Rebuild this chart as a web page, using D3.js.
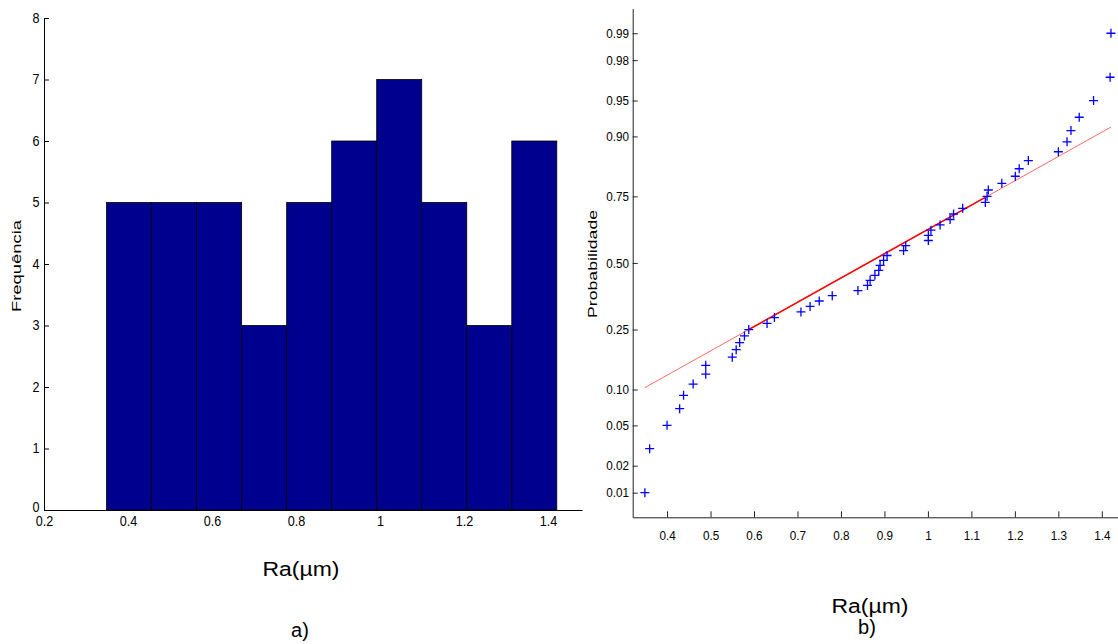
<!DOCTYPE html>
<html><head><meta charset="utf-8">
<script src="https://cdn.jsdelivr.net/npm/d3@7"></script>
<style>
body{margin:0;background:#fff;}
svg{display:block;}
text{font-family:'Liberation Sans',Arial,Helvetica,sans-serif;}
</style></head><body>
<svg id="chart" width="1118" height="644"></svg>
<script>
// ---- data (Ra values in µm, sorted) ----
const raValues = [0.349, 0.360, 0.400, 0.429, 0.438, 0.460, 0.489, 0.489, 0.550, 0.559,
  0.567, 0.578, 0.588, 0.630, 0.647, 0.708, 0.729, 0.750, 0.780, 0.839,
  0.861, 0.867, 0.878, 0.887, 0.890, 0.898, 0.906, 0.944, 0.949, 1.001,
  1.001, 1.007, 1.028, 1.051, 1.059, 1.080, 1.132, 1.136, 1.139, 1.170,
  1.201, 1.210, 1.231, 1.300, 1.320, 1.329, 1.348, 1.381, 1.419, 1.421];
const histCounts = [5, 5, 5, 3, 5, 6, 7, 5, 3, 6];
const histXTicks = [0.2, 0.4, 0.6, 0.8, 1.0, 1.2, 1.4];
const histYTicks = [0, 1, 2, 3, 4, 5, 6, 7, 8];
const probYTicks = [0.01, 0.02, 0.05, 0.10, 0.25, 0.50, 0.75, 0.90, 0.95, 0.98, 0.99];
const probXTicks = [0.4, 0.5, 0.6, 0.7, 0.8, 0.9, 1.0, 1.1, 1.2, 1.3, 1.4];
const labelX = "Ra(µm)";
const labelFreq = "Frequência";
const labelProb = "Probabilidade";

// inverse normal CDF (Acklam)
function norminv(p) {
  const a = [-3.969683028665376e+01, 2.209460984245205e+02, -2.759285104469687e+02, 1.383577518672690e+02, -3.066479806614716e+01, 2.506628277459239e+00];
  const b = [-5.447609879822406e+01, 1.615858368580409e+02, -1.556989798598866e+02, 6.680131188771972e+01, -1.328068155288572e+01];
  const c = [-7.784894002430293e-03, -3.223964580411365e-01, -2.400758277161838e+00, -2.549671010839276e+00, 4.374664141464968e+00, 2.938163982698783e+00];
  const d = [7.784695709041462e-03, 3.224671290700398e-01, 2.445134137142996e+00, 3.754408661907416e+00];
  const plow = 0.02425, phigh = 1 - plow;
  let q, r;
  if (p < plow) {
    q = Math.sqrt(-2 * Math.log(p));
    return (((((c[0]*q+c[1])*q+c[2])*q+c[3])*q+c[4])*q+c[5]) / ((((d[0]*q+d[1])*q+d[2])*q+d[3])*q+1);
  } else if (p <= phigh) {
    q = p - 0.5; r = q*q;
    return (((((a[0]*r+a[1])*r+a[2])*r+a[3])*r+a[4])*r+a[5])*q / (((((b[0]*r+b[1])*r+b[2])*r+b[3])*r+b[4])*r+1);
  } else {
    q = Math.sqrt(-2 * Math.log(1 - p));
    return -(((((c[0]*q+c[1])*q+c[2])*q+c[3])*q+c[4])*q+c[5]) / ((((d[0]*q+d[1])*q+d[2])*q+d[3])*q+1);
  }
}

const svg = d3.select("#chart");
const fmt1 = v => String(+v.toFixed(1));

// ---------------- left: histogram ----------------
const xL = d3.scaleLinear().domain([0.2, 1.481]).range([44, 582]);
const yL = d3.scaleLinear().domain([0, 8]).range([510, 18]);
const gL = svg.append("g");
const vMin = d3.min(raValues), vMax = d3.max(raValues);
const binW = (vMax - vMin) / histCounts.length;

gL.selectAll("rect.bar").data(histCounts).join("rect")
  .attr("class", "bar")
  .attr("x", (c, i) => xL(vMin + i * binW))
  .attr("width", (c, i) => xL(vMin + (i + 1) * binW) - xL(vMin + i * binW))
  .attr("y", c => yL(c))
  .attr("height", c => yL(0) - yL(c))
  .attr("fill", "#00008F")
  .attr("stroke", "#000")
  .attr("stroke-width", 0.8);

const axLy = gL.append("g").attr("transform", "translate(44,0)")
  .call(d3.axisLeft(yL).tickValues(histYTicks).tickFormat(d3.format("d"))
    .tickSizeInner(-5).tickSizeOuter(0).tickPadding(5));
const axLx = gL.append("g").attr("transform", "translate(0,510)")
  .call(d3.axisBottom(xL).tickValues(histXTicks).tickFormat(fmt1)
    .tickSizeInner(0).tickSizeOuter(0).tickPadding(6));
[axLy, axLx].forEach(ax => {
  ax.selectAll("text").attr("font-size", 14).attr("fill", "#000")
    .attr("font-family", "'Liberation Sans',Arial,sans-serif")
    .attr("transform", "scale(0.9,1)");
  ax.selectAll("path,line").attr("stroke", "#000");
});
// nudge the y "0" label up slightly so it clears the x "0.2" label
axLy.selectAll(".tick").filter(d => d === 0).select("text").attr("dy", "0.1em");

svg.append("text").attr("transform", "translate(21,266) rotate(-90)")
  .attr("text-anchor", "middle").attr("font-size", 13)
  .attr("textLength", 92).attr("lengthAdjust", "spacingAndGlyphs")
  .text(labelFreq);

svg.append("text").attr("x", 301).attr("y", 576).attr("text-anchor", "middle")
  .attr("font-family", "'Open Sans',sans-serif").attr("font-size", 20)
  .attr("textLength", 77).attr("lengthAdjust", "spacingAndGlyphs")
  .text(labelX);
svg.append("text").attr("x", 300).attr("y", 637).attr("text-anchor", "middle")
  .attr("font-family", "'Open Sans',sans-serif").attr("font-size", 20)
  .text("a)");

// ---------------- right: normal probability plot ----------------
const xR = d3.scaleLinear().domain([0.321, 1.451]).range([632.7, 1124]);
const zR = d3.scaleLinear().domain([-2.576, 2.576]).range([517.3, 8.6]);
// probability scale built on the z scale
const pScale = p => zR(norminv(p));
pScale.domain = () => [0.005, 0.995];
pScale.range = () => zR.range();
pScale.copy = () => pScale;

const gR = svg.append("g");
const axRy = gR.append("g").attr("transform", "translate(632.7,0)")
  .call(d3.axisLeft(pScale).tickValues(probYTicks).tickFormat(d3.format(".2f"))
    .tickSizeInner(-5).tickSizeOuter(0).tickPadding(4));
const axRx = gR.append("g").attr("transform", "translate(0,517.3)")
  .call(d3.axisBottom(xR).tickValues(probXTicks).tickFormat(fmt1)
    .tickSizeInner(-6).tickSizeOuter(0).tickPadding(13));
[axRy, axRx].forEach(ax => {
  ax.selectAll("text").attr("font-size", 13).attr("fill", "#000")
    .attr("font-family", "'Liberation Sans',Arial,sans-serif")
    .attr("transform", "scale(0.9,1)");
  ax.selectAll("path,line").attr("stroke", "#222");
});

// reference line through quartiles
const q1 = raValues[12], q3 = raValues[37];
const z1 = norminv(0.25), z3 = norminv(0.75);
const zAt = v => z1 + (v - q1) * (z3 - z1) / (q3 - q1);
gR.append("line")
  .attr("x1", xR(vMin)).attr("y1", zR(zAt(vMin)))
  .attr("x2", xR(vMax)).attr("y2", zR(zAt(vMax)))
  .attr("stroke", "#ff0000").attr("stroke-opacity", 0.6).attr("stroke-width", 1);
gR.append("line")
  .attr("x1", xR(q1)).attr("y1", zR(z1))
  .attr("x2", xR(q3)).attr("y2", zR(z3))
  .attr("stroke", "#ff0000").attr("stroke-width", 1.6);

// data markers
const n = raValues.length;
gR.selectAll("path.pt").data(raValues).join("path")
  .attr("class", "pt")
  .attr("d", (v, i) => {
    const x = xR(v), y = zR(norminv((i + 0.5) / n));
    return `M${x - 4.5},${y}H${x + 4.5}M${x},${y - 4.5}V${y + 4.5}`;
  })
  .attr("fill", "none").attr("stroke", "#0000ff").attr("stroke-width", 1.3);

svg.append("text").attr("transform", "translate(596.5,264) rotate(-90)")
  .attr("text-anchor", "middle").attr("font-size", 13.5)
  .attr("textLength", 108).attr("lengthAdjust", "spacingAndGlyphs")
  .text(labelProb);

svg.append("text").attr("x", 870).attr("y", 613).attr("text-anchor", "middle")
  .attr("font-family", "'Open Sans',sans-serif").attr("font-size", 20)
  .attr("textLength", 77).attr("lengthAdjust", "spacingAndGlyphs")
  .text(labelX);
svg.append("text").attr("x", 867).attr("y", 634).attr("text-anchor", "middle")
  .attr("font-family", "'Open Sans',sans-serif").attr("font-size", 20)
  .text("b)");
</script>
</body></html>
